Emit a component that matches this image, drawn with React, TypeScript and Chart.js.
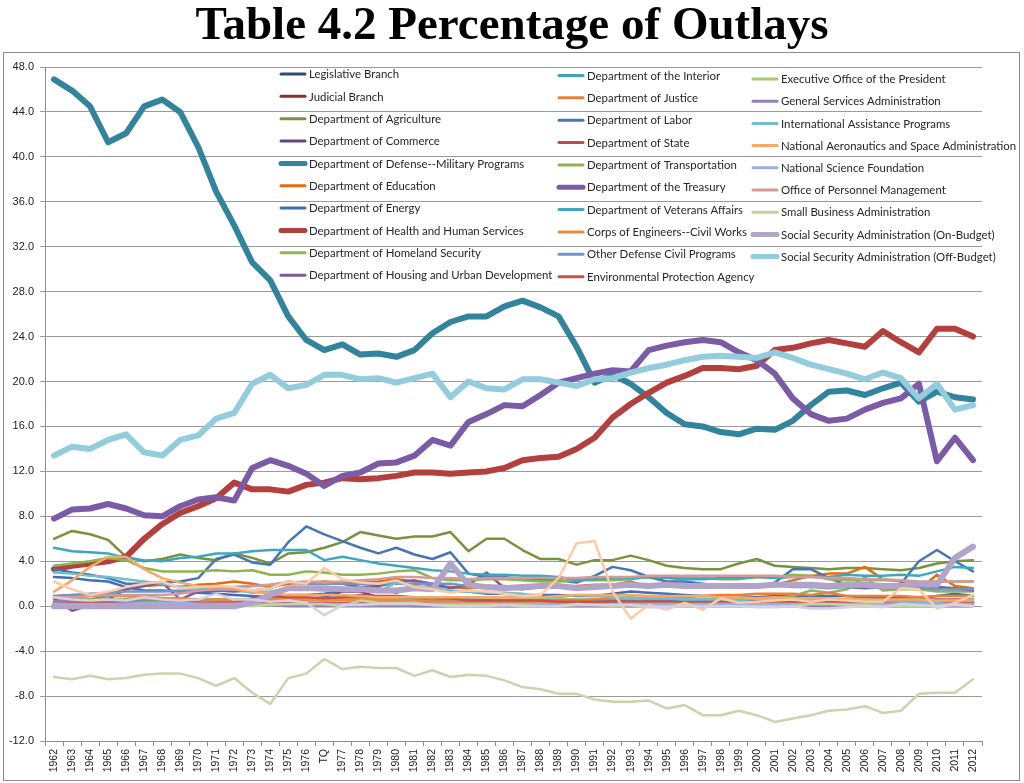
import React, { useEffect, useRef } from 'react';
import { Chart, registerables } from 'chart.js';

Chart.register(...registerables);

const chartTitle = 'Table 4.2 Percentage of Outlays';

const categories = [
  '1962', '1963', '1964', '1965', '1966', '1967', '1968', '1969', '1970', '1971',
  '1972', '1973', '1974', '1975', '1976', 'TQ', '1977', '1978', '1979', '1980',
  '1981', '1982', '1983', '1984', '1985', '1986', '1987', '1988', '1989', '1990',
  '1991', '1992', '1993', '1994', '1995', '1996', '1997', '1998', '1999', '2000',
  '2001', '2002', '2003', '2004', '2005', '2006', '2007', '2008', '2009', '2010',
  '2011', '2012',
];

const yTicks = { min: -12, max: 48, step: 4 };

const legislativeBranch = [
  0.2, 0.2, 0.2, 0.2, 0.2, 0.1, 0.1, 0.2, 0.2, 0.2,
  0.2, 0.2, 0.2, 0.2, 0.2, 0.2, 0.2, 0.2, 0.2, 0.2,
  0.2, 0.2, 0.2, 0.2, 0.2, 0.2, 0.2, 0.2, 0.2, 0.2,
  0.2, 0.2, 0.2, 0.2, 0.2, 0.2, 0.2, 0.2, 0.2, 0.2,
  0.2, 0.2, 0.2, 0.2, 0.2, 0.2, 0.1, 0.1, 0.1, 0.1,
  0.1, 0.1,
];
const judicialBranch = [
  0.1, 0.1, 0.1, 0.1, 0.1, 0.1, 0.1, 0.1, 0.1, 0.1,
  0.1, 0.1, 0.1, 0.1, 0.1, 0.1, 0.1, 0.1, 0.1, 0.1,
  0.1, 0.1, 0.1, 0.1, 0.1, 0.1, 0.1, 0.1, 0.1, 0.1,
  0.1, 0.2, 0.2, 0.2, 0.2, 0.2, 0.2, 0.2, 0.2, 0.2,
  0.2, 0.2, 0.2, 0.2, 0.2, 0.2, 0.2, 0.2, 0.2, 0.2,
  0.2, 0.2,
];
const agriculture = [
  6.0, 6.7, 6.4, 5.9, 4.4, 4.0, 4.2, 4.6, 4.3, 4.1,
  4.7, 4.3, 3.8, 4.7, 4.8, 5.2, 5.7, 6.6, 6.3, 6.0,
  6.2, 6.2, 6.6, 4.9, 6.0, 6.0, 5.0, 4.2, 4.2, 3.7,
  4.1, 4.1, 4.5, 4.1, 3.6, 3.4, 3.3, 3.3, 3.8, 4.2,
  3.6, 3.5, 3.4, 3.3, 3.4, 3.4, 3.3, 3.2, 3.4, 3.8,
  4.0, 4.1,
];
const commerce = [
  0.4, 0.5, 0.5, 0.5, 0.6, 0.5, 0.5, 0.4, 0.5, 0.5,
  0.5, 0.5, 0.5, 0.6, 0.6, 0.8, 1.3, 1.3, 0.8, 0.6,
  0.5, 0.3, 0.3, 0.2, 0.2, 0.2, 0.2, 0.2, 0.2, 0.3,
  0.2, 0.2, 0.2, 0.2, 0.3, 0.2, 0.3, 0.3, 0.3, 0.4,
  0.3, 0.3, 0.3, 0.2, 0.3, 0.2, 0.2, 0.2, 0.3, 0.4,
  0.3, 0.3,
];
const defenseMilitary = [
  46.9, 45.9, 44.5, 41.3, 42.1, 44.5, 45.1, 44.0, 40.9, 36.9,
  33.9, 30.6, 29.0, 25.8, 23.7, 22.8, 23.3, 22.4, 22.5, 22.2,
  22.8, 24.3, 25.3, 25.8, 25.8, 26.7, 27.2, 26.6, 25.8, 23.1,
  19.9, 20.6, 19.8, 18.6, 17.2, 16.2, 16.0, 15.5, 15.3, 15.8,
  15.7, 16.5, 17.9, 19.1, 19.2, 18.8, 19.4, 19.9, 18.2, 19.1,
  18.6, 18.4,
];
const education = [
  0.6, 0.6, 0.6, 0.9, 1.6, 1.8, 1.9, 1.7, 1.9, 2.0,
  2.2, 2.0, 1.7, 2.0, 2.1, 2.2, 2.1, 2.1, 2.2, 2.4,
  2.2, 1.8, 1.7, 1.6, 1.8, 1.8, 1.6, 1.7, 1.8, 1.8,
  1.9, 1.9, 2.2, 1.7, 2.1, 1.9, 1.9, 1.9, 1.9, 1.9,
  1.9, 2.3, 2.7, 2.9, 2.9, 3.5, 2.4, 2.2, 1.5, 2.8,
  1.8, 1.6,
];
const energy = [
  2.6, 2.5, 2.3, 2.2, 1.7, 1.4, 1.4, 1.3, 1.2, 1.1,
  1.0, 0.9, 0.8, 1.0, 1.0, 1.1, 1.4, 1.6, 1.6, 1.2,
  1.7, 1.5, 1.3, 1.3, 1.1, 1.1, 1.0, 1.0, 1.0, 0.9,
  0.9, 1.1, 1.3, 1.2, 1.1, 1.0, 0.9, 0.9, 0.9, 0.8,
  0.9, 0.9, 0.9, 0.9, 0.9, 0.8, 0.7, 0.7, 0.7, 0.9,
  1.1, 0.9,
];
const healthHumanServices = [
  3.3, 3.6, 3.8, 4.0, 4.4, 6.0, 7.3, 8.3, 8.9, 9.6,
  11.0, 10.4, 10.4, 10.2, 10.8, 11.0, 11.4, 11.3, 11.4, 11.6,
  11.9, 11.9, 11.8, 11.9, 12.0, 12.3, 13.0, 13.2, 13.3, 14.0,
  15.0, 16.8, 18.0, 19.0, 19.9, 20.5, 21.2, 21.2, 21.1, 21.4,
  22.8, 23.0, 23.4, 23.7, 23.4, 23.1, 24.5, 23.5, 22.6, 24.7,
  24.7, 24.0,
];
const homelandSecurity = [
  0.6, 0.6, 0.6, 0.6, 0.6, 0.6, 0.6, 0.6, 0.6, 0.6,
  0.6, 0.6, 0.6, 0.6, 0.6, 0.6, 0.6, 0.7, 0.6, 0.6,
  0.7, 0.7, 0.6, 0.6, 0.6, 0.6, 0.6, 0.6, 0.6, 0.6,
  0.6, 0.7, 0.8, 0.7, 0.7, 0.6, 0.6, 0.6, 0.6, 0.7,
  0.7, 0.9, 1.4, 1.2, 1.5, 2.6, 1.4, 1.5, 1.5, 1.3,
  1.3, 1.3,
];
const housingUrbanDev = [
  0.7, -0.4, 0.1, 0.6, 1.5, 1.8, 2.1, 0.6, 1.3, 1.4,
  1.3, 1.4, 1.6, 2.2, 2.0, 2.1, 2.0, 1.7, 1.8, 2.1,
  2.3, 2.0, 1.6, 1.9, 3.0, 1.6, 1.5, 1.7, 1.7, 1.6,
  1.7, 1.8, 1.8, 1.8, 2.0, 1.7, 1.7, 1.8, 1.9, 1.7,
  1.8, 1.9, 1.7, 1.9, 1.7, 1.6, 1.7, 1.7, 1.8, 1.7,
  1.6, 1.4,
];
const interior = [
  0.8, 0.8, 0.9, 0.9, 0.9, 0.8, 0.7, 0.6, 0.6, 0.6,
  0.6, 0.6, 0.6, 0.7, 0.7, 0.7, 0.8, 0.8, 0.8, 0.8,
  0.6, 0.5, 0.6, 0.6, 0.5, 0.5, 0.5, 0.5, 0.5, 0.5,
  0.5, 0.5, 0.5, 0.5, 0.5, 0.4, 0.4, 0.4, 0.5, 0.4,
  0.4, 0.5, 0.4, 0.4, 0.4, 0.4, 0.4, 0.4, 0.3, 0.4,
  0.4, 0.3,
];
const justice = [
  0.3, 0.3, 0.3, 0.3, 0.3, 0.3, 0.3, 0.3, 0.3, 0.4,
  0.5, 0.6, 0.6, 0.6, 0.6, 0.6, 0.6, 0.5, 0.5, 0.4,
  0.4, 0.4, 0.4, 0.4, 0.4, 0.4, 0.5, 0.5, 0.5, 0.5,
  0.6, 0.7, 0.7, 0.7, 0.7, 0.8, 0.9, 1.0, 1.0, 1.1,
  1.1, 1.1, 1.0, 1.2, 0.9, 0.9, 0.9, 0.9, 0.8, 0.9,
  0.9, 0.9,
];
const labor = [
  3.3, 3.0, 2.8, 2.5, 2.0, 2.0, 2.1, 2.2, 2.5, 4.2,
  4.6, 3.9, 3.7, 5.7, 7.1, 6.4, 5.8, 5.2, 4.7, 5.2,
  4.6, 4.2, 4.8, 2.9, 2.6, 2.6, 2.4, 2.3, 2.3, 2.1,
  2.7, 3.5, 3.2, 2.6, 2.2, 2.2, 2.0, 1.8, 1.9, 1.8,
  2.1, 3.3, 3.3, 2.5, 1.9, 1.7, 1.7, 2.0, 4.0, 5.0,
  4.0, 3.1,
];
const state = [
  0.3, 0.3, 0.3, 0.3, 0.3, 0.3, 0.2, 0.2, 0.2, 0.2,
  0.2, 0.2, 0.3, 0.3, 0.3, 0.3, 0.3, 0.3, 0.3, 0.3,
  0.3, 0.3, 0.3, 0.3, 0.3, 0.3, 0.3, 0.3, 0.3, 0.3,
  0.3, 0.4, 0.4, 0.4, 0.4, 0.3, 0.4, 0.4, 0.4, 0.4,
  0.4, 0.5, 0.4, 0.5, 0.5, 0.5, 0.5, 0.6, 0.6, 0.6,
  0.6, 0.6,
];
const transportation = [
  3.6, 3.8, 4.0, 4.3, 4.1, 3.4, 3.1, 3.1, 3.1, 3.2,
  3.1, 3.2, 2.8, 2.8, 3.1, 3.0, 2.8, 2.8, 2.9, 3.1,
  3.2, 2.5, 2.3, 2.3, 2.4, 2.4, 2.3, 2.2, 2.2, 2.3,
  2.3, 2.3, 2.4, 2.6, 2.6, 2.5, 2.5, 2.4, 2.4, 2.6,
  2.6, 2.8, 2.7, 2.4, 2.3, 2.3, 2.3, 2.3, 2.1, 2.2,
  2.2, 2.2,
];
const treasury = [
  7.8, 8.6, 8.7, 9.1, 8.7, 8.1, 8.0, 8.9, 9.5, 9.7,
  9.4, 12.3, 13.0, 12.5, 11.8, 10.7, 11.6, 11.9, 12.7, 12.8,
  13.4, 14.8, 14.3, 16.4, 17.1, 17.9, 17.8, 18.8, 19.9, 20.3,
  20.7, 21.0, 20.9, 22.8, 23.2, 23.5, 23.7, 23.5, 22.6, 21.9,
  20.7, 18.5, 17.1, 16.5, 16.7, 17.5, 18.1, 18.5, 19.8, 12.9,
  15.0, 13.0,
];
const veteransAffairs = [
  5.2, 4.9, 4.8, 4.7, 4.3, 4.1, 4.0, 4.3, 4.4, 4.7,
  4.7, 4.9, 5.0, 5.0, 5.0, 4.1, 4.4, 4.1, 3.8, 3.6,
  3.4, 3.2, 3.1, 2.9, 2.8, 2.8, 2.7, 2.7, 2.6, 2.3,
  2.4, 2.5, 2.5, 2.6, 2.5, 2.4, 2.4, 2.5, 2.5, 2.6,
  2.5, 2.6, 2.6, 2.6, 2.8, 2.7, 2.7, 2.8, 2.7, 3.1,
  3.5, 3.4,
];
const corpsOfEngineers = [
  0.9, 1.0, 1.0, 1.0, 0.9, 0.8, 0.7, 0.7, 0.6, 0.6,
  0.6, 0.6, 0.6, 0.6, 0.6, 0.5, 0.6, 0.6, 0.6, 0.6,
  0.5, 0.4, 0.4, 0.3, 0.3, 0.3, 0.3, 0.3, 0.3, 0.3,
  0.3, 0.3, 0.3, 0.2, 0.2, 0.2, 0.2, 0.2, 0.2, 0.2,
  0.2, 0.2, 0.2, 0.2, 0.2, 0.3, 0.2, 0.2, 0.2, 0.3,
  0.3, 0.2,
];
const otherDefenseCivil = [
  0.9, 1.0, 1.1, 1.2, 1.3, 1.3, 1.3, 1.4, 1.4, 1.6,
  1.7, 1.8, 1.9, 2.1, 2.0, 2.0, 2.0, 2.0, 2.0, 2.0,
  2.0, 2.0, 2.0, 1.8, 1.7, 1.7, 1.8, 1.8, 1.8, 1.7,
  1.7, 1.7, 1.8, 1.8, 1.8, 1.9, 1.9, 1.8, 1.8, 1.8,
  1.9, 1.7, 1.7, 1.6, 1.7, 1.7, 1.6, 1.6, 1.6, 1.5,
  1.5, 1.5,
];
const environmentalProtection = [
  0.0, 0.0, 0.0, 0.1, 0.1, 0.1, 0.1, 0.1, 0.2, 0.3,
  0.3, 0.7, 0.9, 0.8, 0.8, 0.7, 0.8, 1.0, 0.9, 0.9,
  0.8, 0.8, 0.7, 0.5, 0.5, 0.5, 0.5, 0.5, 0.4, 0.4,
  0.4, 0.4, 0.4, 0.4, 0.4, 0.4, 0.4, 0.4, 0.4, 0.4,
  0.4, 0.4, 0.4, 0.4, 0.3, 0.3, 0.3, 0.3, 0.3, 0.3,
  0.3, 0.3,
];
const executiveOffice = [
  0.1, 0.1, 0.1, 0.1, 0.1, 0.1, 0.1, 0.1, 0.1, 0.1,
  0.1, 0.1, 0.1, 0.1, 0.1, 0.1, 0.1, 0.1, 0.1, 0.1,
  0.0, 0.0, 0.0, 0.0, 0.0, 0.0, 0.0, 0.0, 0.0, 0.0,
  0.0, 0.0, 0.0, 0.0, 0.0, 0.0, 0.0, 0.0, 0.0, 0.0,
  0.0, 0.0, 0.0, 0.0, 0.0, 0.0, 0.0, 0.0, 0.0, 0.0,
  0.0, 0.0,
];
const generalServices = [
  0.4, 0.5, 0.5, 0.5, 0.4, 0.4, 0.3, 0.3, 0.2, 0.2,
  0.2, 0.2, 0.1, 0.0, 0.0, 0.0, 0.0, 0.0, 0.0, 0.0,
  0.0, 0.0, 0.0, 0.0, 0.0, 0.0, 0.0, 0.0, 0.0, 0.0,
  0.0, 0.0, 0.0, 0.0, 0.0, 0.0, 0.0, 0.0, 0.0, 0.0,
  0.0, 0.0, 0.0, 0.0, 0.0, 0.0, 0.0, 0.0, 0.0, 0.0,
  0.0, 0.0,
];
const internationalAssistance = [
  3.0, 2.9, 2.7, 2.6, 2.4, 2.2, 2.0, 1.7, 1.6, 1.5,
  1.5, 1.2, 1.3, 1.6, 1.5, 1.4, 1.5, 1.5, 1.3, 2.1,
  1.8, 1.6, 1.4, 1.3, 1.2, 1.2, 1.1, 0.8, 0.8, 1.0,
  0.9, 0.8, 0.7, 0.7, 0.7, 0.6, 0.6, 0.6, 0.5, 0.7,
  0.7, 0.6, 0.6, 0.6, 0.6, 0.6, 0.5, 0.4, 0.4, 0.4,
  0.5, 0.6,
];
const nasa = [
  1.3, 2.3, 3.5, 4.4, 4.4, 3.3, 2.5, 2.1, 1.8, 1.6,
  1.5, 1.3, 1.1, 1.0, 1.0, 1.0, 1.0, 0.9, 0.8, 0.8,
  0.8, 0.8, 0.8, 0.8, 0.8, 0.8, 0.8, 0.8, 0.9, 1.0,
  1.0, 1.0, 1.0, 0.9, 0.9, 0.9, 0.9, 0.8, 0.8, 0.7,
  0.8, 0.7, 0.7, 0.7, 0.6, 0.6, 0.6, 0.6, 0.6, 0.5,
  0.5, 0.5,
];
const scienceFoundation = [
  0.2, 0.2, 0.2, 0.2, 0.2, 0.3, 0.3, 0.3, 0.2, 0.2,
  0.2, 0.2, 0.2, 0.2, 0.2, 0.2, 0.2, 0.2, 0.2, 0.2,
  0.2, 0.2, 0.2, 0.2, 0.2, 0.2, 0.2, 0.2, 0.1, 0.1,
  0.1, 0.2, 0.2, 0.2, 0.2, 0.2, 0.2, 0.2, 0.2, 0.2,
  0.2, 0.2, 0.2, 0.2, 0.2, 0.2, 0.2, 0.2, 0.2, 0.2,
  0.2, 0.2,
];
const personnelManagement = [
  0.8, 0.8, 0.9, 1.0, 1.0, 1.0, 1.0, 1.1, 1.4, 1.5,
  1.5, 1.8, 1.9, 2.1, 2.2, 2.1, 2.2, 2.3, 2.4, 2.6,
  2.6, 2.5, 2.5, 2.4, 2.5, 2.5, 2.5, 2.5, 2.5, 2.5,
  2.6, 2.6, 2.6, 2.7, 2.7, 2.7, 2.7, 2.7, 2.7, 2.7,
  2.7, 2.6, 2.6, 2.5, 2.5, 2.4, 2.4, 2.3, 2.2, 2.2,
  2.2, 2.2,
];
const smallBusiness = [
  0.1, 0.1, 0.1, 0.1, 0.1, 0.1, 0.1, 0.1, 0.0, 0.1,
  0.1, 0.0, 0.1, 0.2, 0.2, 0.2, 0.0, 0.5, 0.3, 0.3,
  0.3, 0.1, 0.1, 0.1, 0.1, 0.1, 0.1, 0.0, 0.0, 0.1,
  0.1, 0.0, 0.1, 0.0, 0.0, 0.1, 0.0, 0.0, 0.0, 0.0,
  0.0, 0.0, 0.2, 0.2, 0.1, 0.1, 0.0, 0.0, 0.0, 0.0,
  0.2, 0.0,
];
const ssaOnBudget = [
  0.0, 0.0, 0.0, 0.0, 0.0, 0.0, 0.0, 0.0, 0.0, 0.0,
  0.0, 0.3, 1.0, 1.6, 1.6, 1.6, 1.5, 1.5, 1.4, 1.4,
  1.6, 1.5, 3.8, 1.9, 1.7, 1.6, 1.7, 1.8, 1.8, 1.6,
  1.7, 1.8, 1.9, 1.8, 1.9, 1.8, 1.8, 1.8, 1.8, 1.8,
  1.9, 1.9, 1.9, 1.8, 1.9, 1.9, 1.8, 1.8, 2.0, 1.9,
  4.3, 5.3,
];
const ssaOffBudget = [
  13.4, 14.2, 14.0, 14.8, 15.3, 13.7, 13.4, 14.8, 15.2, 16.7,
  17.2, 19.8, 20.6, 19.4, 19.7, 20.6, 20.6, 20.2, 20.3, 19.9,
  20.3, 20.7, 18.6, 20.0, 19.4, 19.3, 20.2, 20.2, 19.9, 19.6,
  20.2, 20.3, 20.8, 21.2, 21.5, 21.9, 22.2, 22.3, 22.2, 22.1,
  22.6, 22.1, 21.5, 21.1, 20.7, 20.2, 20.8, 20.3, 18.5, 19.8,
  17.5, 17.9,
];
const otherIndependentOn = [
  2.2, 1.5, 1.0, 1.3, 1.7, 2.0, 2.2, 1.6, 1.7, 1.8,
  1.7, 1.4, 1.6, 2.2, 2.0, 3.4, 2.4, 2.1, 2.0, 2.3,
  1.7, 1.5, 1.2, 1.4, 1.3, 1.1, 0.9, 1.0, 2.5, 5.6,
  5.8, 1.3, -1.1, 0.1, -0.3, 0.3, -0.3, 0.7, 0.3, 0.4,
  0.5, 0.6, 0.4, 0.6, 0.5, 0.4, 0.4, 1.6, 1.5, -0.2,
  0.3, 1.0,
];
const otherIndependentOff = [
  0.8, 0.6, 0.5, 0.6, 0.5, 0.8, 0.6, 0.5, 0.6, 1.1,
  0.6, 0.6, 0.4, 0.5, 0.3, -0.8, 0.1, 0.1, 0.2, 0.2,
  0.2, 0.1, 0.0, 0.0, 0.0, 0.1, 0.0, 0.0, 0.0, 0.2,
  0.1, 0.1, 0.1, -0.1, -0.1, 0.0, 0.0, 0.0, 0.0, -0.1,
  -0.1, 0.0, -0.2, -0.2, -0.1, 0.0, -0.1, 0.2, 0.1, 0.0,
  0.1, 0.0,
];
const undistributedReceipts = [
  -6.3, -6.5, -6.2, -6.5, -6.4, -6.1, -6.0, -6.0, -6.4, -7.1,
  -6.4, -7.7, -8.7, -6.4, -6.0, -4.7, -5.6, -5.4, -5.5, -5.5,
  -6.2, -5.7, -6.3, -6.1, -6.2, -6.6, -7.2, -7.4, -7.8, -7.8,
  -8.3, -8.5, -8.5, -8.4, -9.1, -8.8, -9.7, -9.7, -9.3, -9.7,
  -10.3, -10.0, -9.7, -9.3, -9.2, -8.9, -9.5, -9.3, -7.8, -7.7,
  -7.7, -6.5,
];

type Series = { label: string; data: number[]; color: string; thick?: boolean; legend: boolean };

const series: Series[] = [
  { label: 'Legislative Branch', data: legislativeBranch, color: '#2C4D75', legend: true },
  { label: 'Judicial Branch', data: judicialBranch, color: '#8E2F2C', legend: true },
  { label: 'Department of Agriculture', data: agriculture, color: '#77933C', legend: true },
  { label: 'Department of Commerce', data: commerce, color: '#5F497A', legend: true },
  { label: 'Department of Defense--Military Programs', data: defenseMilitary, color: '#31849B', thick: true, legend: true },
  { label: 'Department of Education', data: education, color: '#E46C0A', legend: true },
  { label: 'Department of Energy', data: energy, color: '#3F6FB2', legend: true },
  { label: 'Department of Health and Human Services', data: healthHumanServices, color: '#B3403D', thick: true, legend: true },
  { label: 'Department of Homeland Security', data: homelandSecurity, color: '#92B553', legend: true },
  { label: 'Department of Housing and Urban Development', data: housingUrbanDev, color: '#7A5CA0', legend: true },
  { label: 'Department of the Interior', data: interior, color: '#3FA3BF', legend: true },
  { label: 'Department of Justice', data: justice, color: '#E8823A', legend: true },
  { label: 'Department of Labor', data: labor, color: '#4775B4', legend: true },
  { label: 'Department of State', data: state, color: '#BE4B48', legend: true },
  { label: 'Department of Transportation', data: transportation, color: '#8FB44C', legend: true },
  { label: 'Department of the Treasury', data: treasury, color: '#7B5BA6', thick: true, legend: true },
  { label: 'Department of Veterans Affairs', data: veteransAffairs, color: '#3EA7C0', legend: true },
  { label: 'Corps of Engineers--Civil Works', data: corpsOfEngineers, color: '#EE8A3F', legend: true },
  { label: 'Other Defense Civil Programs', data: otherDefenseCivil, color: '#7096C9', legend: true },
  { label: 'Environmental Protection Agency', data: environmentalProtection, color: '#C8514E', legend: true },
  { label: 'Executive Office of the President', data: executiveOffice, color: '#A9C774', legend: true },
  { label: 'General Services Administration', data: generalServices, color: '#9580B4', legend: true },
  { label: 'International Assistance Programs', data: internationalAssistance, color: '#6FBED3', legend: true },
  { label: 'National Aeronautics and Space Administration', data: nasa, color: '#F8A866', legend: true },
  { label: 'National Science Foundation', data: scienceFoundation, color: '#98B2D8', legend: true },
  { label: 'Office of Personnel Management', data: personnelManagement, color: '#D59A98', legend: true },
  { label: 'Small Business Administration', data: smallBusiness, color: '#C0D49C', legend: true },
  { label: 'Social Security Administration (On-Budget)', data: ssaOnBudget, color: '#B2A3C9', thick: true, legend: true },
  { label: 'Social Security Administration (Off-Budget)', data: ssaOffBudget, color: '#93CCDD', thick: true, legend: true },
  { label: 'Other Independent Agencies (On-Budget)', data: otherIndependentOn, color: '#FBCBA8', legend: false },
  { label: 'Other Independent Agencies (Off-Budget)', data: otherIndependentOff, color: '#D6D0E6', legend: false },
  { label: 'Undistributed Offsetting Receipts', data: undistributedReceipts, color: '#C6D6AC', legend: false },
];

const overlayPlugin = {
  id: 'overlay',
  afterDraw(chart: any) {
    const ctx: CanvasRenderingContext2D = chart.ctx;
    ctx.save();
    // outer border
    ctx.strokeStyle = '#8a8a8a';
    ctx.lineWidth = 1;
    ctx.strokeRect(3.5, 52.5, 1016, 728);
    // title
    ctx.fillStyle = '#000';
    ctx.font = 'bold 47px "Liberation Serif", "Times New Roman", serif';
    ctx.textAlign = 'center';
    ctx.textBaseline = 'alphabetic';
    ctx.fillText(chartTitle, 512, 39);
    // legend
    const colX = [281, 559, 753];
    const rowY0 = [74, 75.5, 79];
    const rowStep = [22.35, 22.35, 22.2];
    ctx.textAlign = 'left';
    ctx.textBaseline = 'middle';
    ctx.font = '11.4px Lato, "Open Sans", sans-serif';
    let k = 0;
    series.forEach((s) => {
      if (!s.legend) return;
      const col = Math.floor(k / 10);
      const row = k % 10;
      k++;
      const x = colX[col];
      const y = rowY0[col] + row * rowStep[col];
      ctx.strokeStyle = s.color;
      ctx.lineWidth = s.thick ? 5 : 3;
      ctx.lineCap = 'round';
      ctx.beginPath();
      ctx.moveTo(x, y);
      ctx.lineTo(x + 24, y);
      ctx.stroke();
      ctx.fillStyle = '#262626';
      ctx.fillText(s.label, x + 28, y + 0.5);
    });
    ctx.restore();
  },
};

export default function App() {
  const canvasRef = useRef<HTMLCanvasElement>(null);

  useEffect(() => {
    const canvas = canvasRef.current;
    if (!canvas) return;
    const n = series.length;
    const chart = new Chart(canvas, {
      type: 'line',
      data: {
        labels: categories,
        datasets: series.map((s, i) => ({
          label: s.label,
          data: s.data,
          borderColor: s.color,
          backgroundColor: s.color,
          borderWidth: s.thick ? 6 : 2.5,
          pointRadius: 0,
          pointHoverRadius: 0,
          tension: 0,
          fill: false,
          borderJoinStyle: 'round' as const,
          borderCapStyle: 'round' as const,
          order: n - i,
        })),
      },
      options: {
        responsive: false,
        animation: false,
        devicePixelRatio: 1,
        events: [],
        layout: { padding: { top: 67, right: 42, left: 0, bottom: 0 } },
        plugins: {
          legend: { display: false },
          tooltip: { enabled: false },
          title: { display: false },
        },
        scales: {
          x: {
            type: 'category',
            offset: true,
            grid: {
              offset: true,
              drawOnChartArea: false,
              drawTicks: true,
              tickLength: 5,
              color: '#8c8c8c',
            },
            border: { color: '#8c8c8c' },
            ticks: {
              autoSkip: false,
              maxRotation: 90,
              minRotation: 90,
              padding: 3,
              color: '#222',
              font: { family: '"Liberation Sans", Arial, sans-serif', size: 10.5 },
            },
            afterFit: (scale: any) => {
              scale.height = 42;
            },
          },
          y: {
            min: yTicks.min,
            max: yTicks.max,
            grid: {
              color: '#9a9a9a',
              drawTicks: true,
              tickLength: 5,
            },
            border: { color: '#8c8c8c' },
            ticks: {
              stepSize: yTicks.step,
              padding: 6,
              color: '#222',
              font: { family: '"Liberation Sans", Arial, sans-serif', size: 11 },
              callback: (v: any) => Number(v).toFixed(1),
            },
            afterFit: (scale: any) => {
              scale.width = 45;
            },
          },
        },
      },
      plugins: [overlayPlugin],
    });
    return () => chart.destroy();
  }, []);

  return (
    <canvas
      ref={canvasRef}
      width={1024}
      height={783}
      style={{ position: 'absolute', left: 0, top: 0, display: 'block' }}
    />
  );
}
